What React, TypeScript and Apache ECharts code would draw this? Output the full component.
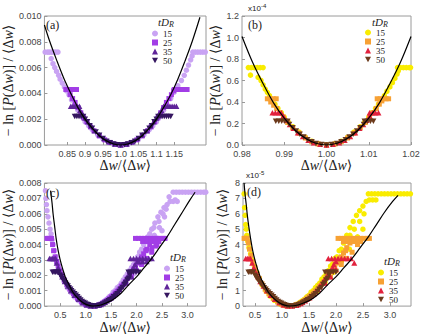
import React, { useEffect, useRef } from "react";
import * as echarts from "echarts";

type Pt = [number, number];

const tdrValues = ["15", "25", "35", "50"];
const coolColors = ["#c9a3f3", "#a23de6", "#5f2499", "#351660"];
const warmColors = ["#f9ec00", "#f7a134", "#e2213d", "#6c3a1c"];
const DOWN = "path://M0,0L10,0L5,9Z";
const markerShapes = ["circle", "rect", "triangle", DOWN];
const markerSizes: any[] = [5.5, 5, [6, 5.5], [6, 5.5]];

const xTicksA = [0.85, 0.9, 0.95, 1.0, 1.05, 1.1, 1.15];
const xLabelsA = ["0.85", "0.9", "0.95", "1.0", "1.05", "1.1", "1.15"];
const xTicksB = [0.98, 0.99, 1.0, 1.01, 1.02];
const xLabelsB = ["0.98", "0.99", "1.00", "1.01", "1.02"];
const xTicksCD = [0.5, 1.0, 1.5, 2.0, 2.5, 3.0];
const xLabelsCD = ["0.5", "1.0", "1.5", "2.0", "2.5", "3.0"];

// ---------- panel (a) ----------
const curveA: Pt[] = [[0.786,0.0093],[0.80,0.0081],[0.82,0.0066],[0.84,0.0052],[0.86,0.0040],[0.88,0.0029],[0.90,0.0020],[0.92,0.0013],[0.94,0.00072],[0.96,0.00032],[0.98,0.00008],[1.00,0],[1.02,0.00008],[1.04,0.00032],[1.06,0.00072],[1.08,0.0013],[1.10,0.0020],[1.12,0.0029],[1.14,0.0039],[1.16,0.0051],[1.18,0.0065],[1.20,0.0080],[1.222,0.0099]];
const a15: Pt[] = [[0.788,0.0072],[0.795,0.0072],[0.80,0.0072],[0.806,0.0072],[0.812,0.0072],[0.818,0.0072],[0.824,0.0072],[0.805,0.0067],[0.81,0.0063],[0.815,0.006],[0.82,0.0057],[0.826,0.0054],[0.83,0.0051],[0.836,0.0048],[0.842,0.0045],[0.848,0.0042],[0.855,0.0039],[0.862,0.0035],[0.87,0.0031],[0.88,0.0027],[0.89,0.0022],[0.90,0.0018],[0.91,0.0015],[0.92,0.0012],[0.935,0.0008],[0.95,0.0005],[0.965,0.00025],[0.98,0.0001],[1.0,0.00002],[1.02,0.0001],[1.035,0.00025],[1.05,0.0005],[1.065,0.0008],[1.08,0.0012],[1.09,0.0015],[1.10,0.0018],[1.11,0.0022],[1.12,0.0027],[1.13,0.0031],[1.14,0.0036],[1.15,0.0041],[1.16,0.0046],[1.17,0.005],[1.178,0.0054],[1.184,0.0058],[1.19,0.0062],[1.196,0.0066],[1.20,0.0069],[1.202,0.0072],[1.209,0.0072],[1.216,0.0072],[1.223,0.0072],[1.23,0.0072],[1.237,0.0072]];
const a25: Pt[] = [[0.846,0.0043],[0.852,0.0043],[0.858,0.0043],[0.864,0.0043],[0.87,0.0043],[0.876,0.0043],[0.858,0.0039],[0.865,0.0036],[0.872,0.0033],[0.88,0.0029],[0.888,0.0025],[0.896,0.0021],[0.905,0.0018],[0.915,0.0014],[0.925,0.0011],[0.94,0.0007],[0.955,0.0004],[0.97,0.0002],[0.985,0.00005],[1.0,0],[1.015,0.00005],[1.03,0.0002],[1.045,0.0004],[1.06,0.0007],[1.075,0.0011],[1.085,0.0014],[1.095,0.0018],[1.104,0.0021],[1.112,0.0025],[1.12,0.0029],[1.128,0.0033],[1.135,0.0036],[1.142,0.0039],[1.148,0.0042],[1.15,0.0043],[1.156,0.0043],[1.162,0.0043],[1.168,0.0043],[1.174,0.0043],[1.18,0.0043],[1.186,0.0043]];
const a35: Pt[] = [[0.86,0.003],[0.866,0.003],[0.872,0.003],[0.878,0.003],[0.884,0.003],[0.886,0.0027],[0.893,0.0024],[0.9,0.0021],[0.908,0.0018],[0.917,0.0015],[0.927,0.0011],[0.94,0.0008],[0.953,0.0005],[0.967,0.00025],[0.983,0.00008],[1.0,0],[1.017,0.00008],[1.033,0.00025],[1.047,0.0005],[1.06,0.0008],[1.073,0.0011],[1.083,0.0015],[1.092,0.0018],[1.1,0.0021],[1.107,0.0024],[1.114,0.0027],[1.12,0.003],[1.126,0.003],[1.132,0.003],[1.138,0.003],[1.144,0.003],[1.15,0.003],[1.156,0.003]];
const a50: Pt[] = [[0.871,0.0022],[0.877,0.0022],[0.883,0.0022],[0.889,0.0022],[0.895,0.0022],[0.9,0.002],[0.906,0.0018],[0.913,0.0015],[0.92,0.0013],[0.93,0.001],[0.94,0.00075],[0.95,0.0005],[0.96,0.0003],[0.97,0.00017],[0.98,0.00007],[0.99,0.00002],[1.0,0],[1.01,0.00002],[1.02,0.00007],[1.03,0.00017],[1.04,0.0003],[1.05,0.0005],[1.06,0.00075],[1.07,0.001],[1.08,0.0013],[1.087,0.0015],[1.094,0.0018],[1.1,0.002],[1.105,0.0022],[1.11,0.0022],[1.116,0.0022],[1.122,0.0022],[1.128,0.0022],[1.134,0.0022],[1.14,0.0022]];

// ---------- panel (b) (units of 1e-4) ----------
const curveB: Pt[] = [[0.98,1.01],[0.9825,0.77],[0.985,0.57],[0.9875,0.39],[0.99,0.25],[0.9925,0.14],[0.995,0.063],[0.9975,0.016],[1.0,0],[1.0025,0.016],[1.005,0.063],[1.0075,0.14],[1.01,0.25],[1.0125,0.39],[1.015,0.57],[1.0175,0.77],[1.02,1.01]];
const b15: Pt[] = [[0.9815,0.72],[0.9822,0.72],[0.9829,0.72],[0.9836,0.72],[0.9843,0.72],[0.985,0.72],[0.982,0.65],[0.9838,0.63],[0.9845,0.6],[0.985,0.56],[0.9855,0.52],[0.986,0.49],[0.9865,0.46],[0.987,0.42],[0.9878,0.38],[0.9885,0.34],[0.9893,0.3],[0.99,0.26],[0.991,0.21],[0.992,0.17],[0.9935,0.12],[0.995,0.07],[0.9965,0.035],[0.998,0.012],[1.0,0.002],[1.002,0.012],[1.0035,0.035],[1.005,0.07],[1.0065,0.12],[1.008,0.17],[1.009,0.21],[1.01,0.26],[1.0108,0.3],[1.0116,0.34],[1.0123,0.38],[1.013,0.42],[1.0137,0.46],[1.0143,0.5],[1.015,0.54],[1.0156,0.58],[1.0162,0.62],[1.0167,0.66],[1.017,0.69],[1.0168,0.72],[1.0175,0.72],[1.0182,0.72],[1.0189,0.72],[1.0196,0.72],[1.0199,0.72]];
const b25: Pt[] = [[0.986,0.43],[0.9867,0.43],[0.9874,0.43],[0.9881,0.43],[0.9868,0.4],[0.9875,0.37],[0.9882,0.34],[0.989,0.3],[0.9898,0.26],[0.9908,0.21],[0.992,0.16],[0.9935,0.11],[0.995,0.065],[0.9965,0.03],[0.998,0.01],[1.0,0],[1.002,0.01],[1.0035,0.03],[1.005,0.065],[1.0065,0.11],[1.008,0.16],[1.0092,0.21],[1.0102,0.26],[1.011,0.3],[1.0118,0.34],[1.0125,0.38],[1.0131,0.41],[1.012,0.43],[1.0127,0.43],[1.0134,0.43],[1.0141,0.43],[1.0147,0.43]];
const b35: Pt[] = [[0.9872,0.3],[0.9879,0.3],[0.9886,0.3],[0.9893,0.3],[0.9898,0.27],[0.9905,0.23],[0.9913,0.19],[0.9922,0.155],[0.9932,0.115],[0.9944,0.08],[0.9957,0.045],[0.997,0.022],[0.9985,0.006],[1.0,0],[1.0015,0.006],[1.003,0.022],[1.0043,0.045],[1.0056,0.08],[1.0068,0.115],[1.0078,0.155],[1.0087,0.19],[1.0095,0.23],[1.0102,0.27],[1.0102,0.3],[1.0109,0.3],[1.0116,0.3],[1.0123,0.3]];
const b50: Pt[] = [[0.988,0.22],[0.9887,0.22],[0.9894,0.22],[0.9901,0.22],[0.9908,0.22],[0.9912,0.19],[0.992,0.16],[0.9928,0.13],[0.9937,0.1],[0.9946,0.075],[0.9955,0.05],[0.9965,0.03],[0.9975,0.015],[0.9988,0.004],[1.0,0],[1.0012,0.004],[1.0025,0.015],[1.0035,0.03],[1.0045,0.05],[1.0054,0.075],[1.0063,0.1],[1.0072,0.13],[1.008,0.16],[1.0088,0.19],[1.009,0.22],[1.0097,0.22],[1.0104,0.22],[1.0111,0.22]];

// ---------- panel (c) ----------
const curveC: Pt[] = [[0.31,0.0075],[0.34,0.0067],[0.36,0.006],[0.39,0.0052],[0.42,0.0044],[0.46,0.0036],[0.5,0.003],[0.55,0.0024],[0.6,0.0019],[0.67,0.0014],[0.75,0.0009],[0.85,0.0005],[0.95,0.00022],[1.05,0.00006],[1.15,0.0],[1.3,0.00007],[1.4,0.0002],[1.55,0.00045],[1.7,0.00085],[1.85,0.0014],[2.0,0.0019],[2.15,0.0025],[2.3,0.0031],[2.45,0.0038],[2.6,0.0045],[2.75,0.0053],[2.9,0.0061],[3.05,0.0069],[3.15,0.0074]];
const c15: Pt[] = [[0.21,0.0075],[0.22,0.007],[0.23,0.0066],[0.24,0.0062],[0.26,0.0058],[0.28,0.0054],[0.3,0.005],[0.32,0.0047],[0.34,0.0043],[0.36,0.004],[0.39,0.0036],[0.42,0.0032],[0.45,0.0028],[0.49,0.0024],[0.53,0.002],[0.58,0.0016],[0.64,0.0012],[0.71,0.0009],[0.78,0.0006],[0.86,0.00035],[0.95,0.00015],[1.04,0.00004],[1.13,0.00001],[1.26,0.0001],[1.34,0.00025],[1.42,0.00045],[1.5,0.0007],[1.58,0.001],[1.66,0.0013],[1.74,0.0017],[1.82,0.0021],[1.9,0.0025],[1.98,0.003],[2.06,0.0035],[2.14,0.004],[2.22,0.0045],[2.3,0.005],[2.36,0.0054],[2.42,0.0058],[2.48,0.0061],[2.54,0.0064],[2.6,0.0066],[2.66,0.0068],[2.64,0.0071],[1.3,0.00015],[1.38,0.00035],[1.46,0.0006],[1.54,0.0009],[1.62,0.0012],[1.7,0.0015],[1.78,0.0019],[1.86,0.0023],[1.94,0.0027],[2.02,0.0032],[2.1,0.0037],[2.18,0.0042],[2.26,0.0047],[2.34,0.0051],[2.44,0.0055],[2.52,0.006],[2.35,0.0046],[2.45,0.0051],[2.55,0.0058],[2.58,0.0063],[1.5,0.0005],[1.65,0.0009],[1.8,0.0015],[1.95,0.0021],[2.1,0.0028],[2.25,0.0036],[2.4,0.0044],[2.5,0.0049],[2.72,0.0068],[2.76,0.0069],[2.8,0.0068],[2.72,0.0074],[2.78,0.0074],[2.84,0.0074],[2.9,0.0074],[2.96,0.0074],[3.02,0.0074],[3.08,0.0074],[3.14,0.0074],[3.2,0.0074],[3.26,0.0074],[3.32,0.0074],[3.36,0.0074]];
const c25: Pt[] = [[0.24,0.0044],[0.27,0.0044],[0.3,0.0044],[0.33,0.0044],[0.35,0.004],[0.37,0.0036],[0.4,0.0032],[0.43,0.0029],[0.46,0.0026],[0.5,0.0023],[0.54,0.002],[0.58,0.0017],[0.63,0.0014],[0.69,0.0011],[0.76,0.0008],[0.84,0.0005],[0.92,0.00027],[1.0,0.0001],[1.08,0.00002],[1.18,0.00001],[1.26,0.00008],[1.34,0.0002],[1.42,0.00038],[1.5,0.0006],[1.58,0.00085],[1.66,0.0011],[1.74,0.0014],[1.82,0.0018],[1.9,0.0022],[1.98,0.0026],[2.06,0.003],[2.14,0.0034],[2.2,0.0037],[2.26,0.004],[1.3,0.00012],[1.38,0.00028],[1.46,0.00048],[1.54,0.0007],[1.62,0.00097],[1.7,0.0013],[1.78,0.0016],[1.86,0.002],[1.94,0.0024],[2.02,0.0028],[2.1,0.0032],[2.18,0.0036],[1.9,0.0019],[2.0,0.0023],[2.1,0.0027],[2.2,0.0031],[2.3,0.0035],[2.4,0.004],[1.98,0.0044],[2.04,0.0044],[2.1,0.0044],[2.16,0.0044],[2.22,0.0044],[2.28,0.0044],[2.34,0.0044],[2.4,0.0044],[2.46,0.0044],[2.52,0.0044],[2.56,0.0044],[2.12,0.0042],[2.2,0.0042],[2.28,0.0042],[2.36,0.0042],[2.44,0.0042],[2.3,0.0038],[2.38,0.0039]];
const c35: Pt[] = [[0.29,0.0031],[0.32,0.0031],[0.35,0.0031],[0.38,0.0031],[0.41,0.0031],[0.43,0.0028],[0.46,0.0025],[0.5,0.0022],[0.54,0.0019],[0.59,0.0016],[0.65,0.0013],[0.71,0.001],[0.78,0.0007],[0.86,0.00045],[0.94,0.00022],[1.02,0.00007],[1.1,0.00001],[1.18,0],[1.26,0.00006],[1.34,0.00017],[1.42,0.00034],[1.5,0.00055],[1.58,0.0008],[1.66,0.0011],[1.74,0.0015],[1.82,0.0019],[1.9,0.0023],[1.97,0.0027],[2.02,0.0029],[1.3,0.0001],[1.38,0.00025],[1.46,0.00044],[1.54,0.00066],[1.62,0.00093],[1.7,0.0013],[1.78,0.0017],[1.86,0.0021],[1.94,0.0025],[1.8,0.0015],[1.9,0.0019],[2.0,0.0024],[1.88,0.0031],[1.94,0.0031],[2.0,0.0031],[2.06,0.0031],[2.12,0.0031],[2.18,0.0031],[2.24,0.0031],[2.3,0.0031],[2.04,0.0029],[2.12,0.0029],[2.2,0.0029]];
const c50: Pt[] = [[0.35,0.0022],[0.38,0.0022],[0.41,0.0022],[0.44,0.0022],[0.47,0.0022],[0.5,0.002],[0.54,0.0018],[0.58,0.0016],[0.62,0.0014],[0.67,0.0012],[0.72,0.001],[0.78,0.0008],[0.84,0.0006],[0.9,0.0004],[0.96,0.00024],[1.02,0.00012],[1.08,0.00004],[1.14,0],[1.2,0.00001],[1.27,0.00005],[1.34,0.00013],[1.41,0.00026],[1.48,0.00042],[1.55,0.0006],[1.62,0.0008],[1.69,0.0011],[1.76,0.0014],[1.82,0.0017],[1.87,0.002],[0.52,0.0019],[0.56,0.0017],[0.6,0.0015],[0.65,0.0013],[0.7,0.0011],[0.75,0.0009],[0.81,0.0007],[0.87,0.0005],[0.93,0.0003],[0.99,0.00018],[1.05,0.00008],[1.11,0.00002],[1.24,0.00003],[1.31,0.00009],[1.38,0.0002],[1.45,0.00034],[1.52,0.0005],[1.59,0.0007],[1.66,0.00095],[1.73,0.0012],[1.79,0.0015],[1.85,0.0018],[1.84,0.0022],[1.89,0.0022],[1.94,0.0022],[1.99,0.0022],[2.04,0.0022]];

// ---------- panel (d) (units of 1e-5) ----------
const curveD: Pt[] = [[0.3,8.0],[0.32,7.2],[0.34,6.6],[0.36,5.9],[0.39,5.1],[0.42,4.4],[0.46,3.6],[0.5,3.0],[0.55,2.4],[0.6,1.9],[0.67,1.4],[0.75,0.9],[0.85,0.5],[0.95,0.22],[1.05,0.06],[1.15,0.0],[1.3,0.07],[1.4,0.2],[1.55,0.45],[1.7,0.85],[1.85,1.4],[2.0,1.9],[2.15,2.5],[2.3,3.1],[2.45,3.8],[2.6,4.5],[2.75,5.3],[2.9,6.1],[3.05,6.8],[3.15,7.2]];
const d15: Pt[] = [[0.3,7.3],[0.31,6.4],[0.32,5.9],[0.33,5.3],[0.34,5.0],[0.35,4.6],[0.37,4.2],[0.39,3.8],[0.42,3.4],[0.45,3.0],[0.49,2.6],[0.53,2.2],[0.58,1.8],[0.64,1.35],[0.71,0.95],[0.78,0.65],[0.86,0.38],[0.95,0.16],[1.04,0.05],[1.13,0.01],[1.26,0.1],[1.34,0.25],[1.42,0.45],[1.5,0.7],[1.58,1.0],[1.66,1.35],[1.74,1.75],[1.82,2.15],[1.9,2.6],[1.98,3.1],[2.06,3.6],[2.14,4.1],[2.2,4.6],[2.26,5.1],[2.32,5.5],[2.38,5.9],[2.44,6.2],[2.5,6.5],[2.56,6.8],[2.62,6.9],[2.68,6.9],[2.74,6.9],[1.3,0.15],[1.38,0.35],[1.46,0.6],[1.54,0.9],[1.62,1.2],[1.7,1.5],[1.78,1.9],[1.86,2.3],[1.94,2.75],[2.02,3.2],[2.1,3.7],[2.18,4.2],[2.26,4.6],[2.34,5.0],[2.44,5.5],[2.52,6.0],[1.5,0.5],[1.65,0.95],[1.8,1.55],[1.95,2.2],[2.1,2.9],[2.25,3.7],[2.4,4.5],[2.5,5.0],[2.6,7.3],[2.66,7.3],[2.72,7.3],[2.78,7.3],[2.84,7.3],[2.9,7.3],[2.96,7.3],[3.02,7.3],[3.08,7.3],[3.14,7.3],[3.2,7.3],[3.26,7.3],[3.32,7.3],[3.38,7.3]];
const d25: Pt[] = [[0.3,4.4],[0.32,4.4],[0.34,4.4],[0.36,4.4],[0.38,4.1],[0.4,3.7],[0.43,3.3],[0.46,2.9],[0.5,2.5],[0.54,2.1],[0.58,1.8],[0.63,1.45],[0.69,1.1],[0.76,0.8],[0.84,0.5],[0.92,0.27],[1.0,0.1],[1.08,0.02],[1.18,0.01],[1.26,0.08],[1.34,0.2],[1.42,0.38],[1.5,0.6],[1.58,0.85],[1.66,1.1],[1.74,1.45],[1.82,1.85],[1.9,2.25],[1.98,2.65],[2.06,3.05],[2.14,3.45],[2.2,3.8],[2.26,4.1],[1.3,0.12],[1.38,0.28],[1.46,0.48],[1.54,0.7],[1.62,0.97],[1.7,1.3],[1.78,1.6],[1.86,2.0],[1.94,2.4],[2.02,2.8],[2.1,3.2],[2.18,3.6],[1.9,1.9],[2.0,2.3],[2.1,2.7],[2.2,3.1],[2.3,3.5],[2.4,4.0],[2.04,4.4],[2.1,4.4],[2.16,4.4],[2.22,4.4],[2.28,4.4],[2.34,4.4],[2.4,4.4],[2.46,4.4],[2.52,4.4],[2.58,4.4],[2.62,4.4],[2.14,4.2],[2.22,4.2],[2.3,4.2],[2.38,4.2],[2.46,4.2]];
const d35: Pt[] = [[0.33,3.1],[0.36,3.1],[0.39,3.1],[0.42,3.1],[0.45,2.8],[0.48,2.5],[0.52,2.2],[0.56,1.9],[0.6,1.6],[0.66,1.3],[0.72,1.0],[0.79,0.7],[0.87,0.45],[0.95,0.22],[1.03,0.07],[1.11,0.01],[1.19,0.0],[1.27,0.06],[1.35,0.17],[1.43,0.34],[1.51,0.55],[1.59,0.8],[1.67,1.1],[1.75,1.5],[1.83,1.9],[1.9,2.3],[1.96,2.7],[2.0,2.9],[1.3,0.1],[1.38,0.25],[1.46,0.44],[1.54,0.66],[1.62,0.93],[1.7,1.3],[1.78,1.7],[1.86,2.1],[1.94,2.5],[1.8,1.5],[1.9,1.9],[2.0,2.4],[1.86,3.1],[1.92,3.1],[1.98,3.1],[2.04,3.1],[2.1,3.1],[2.16,3.1],[2.22,3.1],[2.28,3.1],[2.34,2.8]];
const d50: Pt[] = [[0.38,2.2],[0.41,2.2],[0.44,2.2],[0.47,2.2],[0.5,2.0],[0.54,1.8],[0.58,1.6],[0.62,1.4],[0.67,1.2],[0.72,1.0],[0.78,0.8],[0.84,0.6],[0.9,0.4],[0.96,0.24],[1.02,0.12],[1.08,0.04],[1.14,0.0],[1.2,0.01],[1.27,0.05],[1.34,0.13],[1.41,0.26],[1.48,0.42],[1.55,0.6],[1.62,0.8],[1.69,1.1],[1.76,1.4],[1.82,1.7],[1.87,2.0],[0.52,1.9],[0.56,1.7],[0.6,1.5],[0.65,1.3],[0.7,1.1],[0.75,0.9],[0.81,0.7],[0.87,0.5],[0.93,0.3],[0.99,0.18],[1.05,0.08],[1.11,0.02],[1.24,0.03],[1.31,0.09],[1.38,0.2],[1.45,0.34],[1.52,0.5],[1.59,0.7],[1.66,0.95],[1.73,1.2],[1.79,1.5],[1.85,1.8],[1.8,2.2],[1.85,2.2],[1.9,2.2],[1.95,2.2],[2.0,2.2]];

const serif = "'Liberation Serif', 'DejaVu Serif', serif";
const sans = "'Liberation Sans', Arial, sans-serif";

const panelData = [
  { sets: [a15, a25, a35, a50], curve: curveA, colors: coolColors, key: "a" },
  { sets: [b15, b25, b35, b50], curve: curveB, colors: warmColors, key: "b" },
  { sets: [c15, c25, c35, c50], curve: curveC, colors: coolColors, key: "c" },
  { sets: [d15, d25, d35, d50], curve: curveD, colors: warmColors, key: "d" },
];

function nearestLabel(v: number, ticks: number[], labels: string[]) {
  let best = 0;
  for (let i = 1; i < ticks.length; i++) if (Math.abs(ticks[i] - v) < Math.abs(ticks[best] - v)) best = i;
  return labels[best];
}

const xName = "{n|Δ}{i|w}{n|/⟨Δ}{i|w}{n|⟩}";
const yName = "{n|− ln [}{i|P}{n|(Δ}{i|w}{n|)] / ⟨Δ}{i|w}{n|⟩}";
const nameRich = {
  n: { fontFamily: serif, fontSize: 14, color: "#222" },
  i: { fontFamily: serif, fontSize: 14, fontStyle: "italic", color: "#222" },
};

function xAxis(gi: number, min: number, max: number, ticks: number[], labels: string[]) {
  return {
    type: "value", gridIndex: gi, min, max,
    axisLine: { show: false },
    splitLine: { show: false },
    axisTick: { show: true, inside: true, length: 3, customValues: ticks, lineStyle: { color: "#999" } },
    axisLabel: { customValues: ticks, formatter: (v: number) => nearestLabel(v, ticks, labels), fontFamily: sans, fontSize: 9, color: "#444", margin: 4 },
    name: xName, nameLocation: "middle", nameGap: 8,
    nameTextStyle: { rich: nameRich, verticalAlign: "top" },
  };
}

function yAxis(gi: number, max: number, interval: number, digits: number, gap: number) {
  return {
    type: "value", gridIndex: gi, min: 0, max, interval,
    axisLine: { show: false },
    splitLine: { show: false },
    axisTick: { show: true, inside: true, length: 3, lineStyle: { color: "#999" } },
    axisLabel: { formatter: (v: number) => v.toFixed(digits), fontFamily: sans, fontSize: 9, color: "#444", margin: 3 },
    name: yName, nameLocation: "middle", nameGap: gap, nameRotate: 90,
    nameTextStyle: { rich: nameRich },
  };
}

function textEl(left: number, top: number, text: string, rich?: any, font?: any) {
  return {
    type: "text", left, top, silent: true, z: 100,
    style: { text, rich, fill: "#222", font: font || `12px ${serif}` },
  };
}

const tdrRich = {
  i: { fontFamily: serif, fontSize: 11, fontStyle: "italic", fill: "#222", color: "#222" },
  s: { fontFamily: serif, fontSize: 8, fontStyle: "italic", fill: "#222", color: "#222", padding: [5, 0, 0, 0] },
};
const expRich = {
  b: { fontFamily: sans, fontSize: 8, color: "#333" },
  s: { fontFamily: sans, fontSize: 6, color: "#333", padding: [0, 0, 5, 0] },
};

export default function App() {
  const ref = useRef<HTMLDivElement>(null);
  useEffect(() => {
    if (!ref.current) return;
    const chart = echarts.init(ref.current, undefined, { renderer: "svg" });
    const series: any[] = [];
    panelData.forEach((p, pi) => {
      p.sets.forEach((data, si) => {
        series.push({
          type: "scatter", name: p.key + tdrValues[si], data,
          xAxisIndex: pi, yAxisIndex: pi,
          symbol: markerShapes[si], symbolSize: markerSizes[si],
          itemStyle: { color: p.colors[si], opacity: 1 },
          silent: true, z: 2 + si,
        });
      });
      series.push({
        type: "line", name: "fit" + p.key, data: p.curve,
        xAxisIndex: pi, yAxisIndex: pi, showSymbol: false, smooth: 0.35,
        lineStyle: { color: "#000", width: 1.2 }, silent: true, z: 10,
      });
    });
    const legendPos = [
      { left: 152, top: 29 },
      { left: 365, top: 28 },
      { left: 164, top: 264 },
      { left: 378, top: 268 },
    ];
    const legend = panelData.map((p, pi) => ({
      data: tdrValues.map((v, si) => ({ name: p.key + v, icon: markerShapes[si] })),
      orient: "vertical", left: legendPos[pi].left, top: legendPos[pi].top,
      itemWidth: 6, itemHeight: 6, itemGap: 0, padding: 0, selectedMode: false,
      formatter: (n: string) => n.slice(1),
      textStyle: { fontFamily: serif, fontSize: 9, color: "#222", lineHeight: 9 },
    }));
    chart.setOption({
      animation: false,
      backgroundColor: "#fff",
      grid: [
        { left: 41, top: 16, width: 165, height: 129 },
        { left: 242, top: 16, width: 169, height: 129 },
        { left: 41, top: 183, width: 165, height: 127 },
        { left: 243, top: 183, width: 168, height: 126 },
      ].map((g) => ({ ...g, show: true, borderColor: "#9a9a9a", borderWidth: 1, backgroundColor: "transparent" })),
      xAxis: [
        xAxis(0, 0.786, 1.239, xTicksA, xLabelsA),
        xAxis(1, 0.98, 1.02, xTicksB, xLabelsB),
        xAxis(2, 0.19, 3.365, xTicksCD, xLabelsCD),
        xAxis(3, 0.28, 3.39, xTicksCD, xLabelsCD),
      ],
      yAxis: [
        yAxis(0, 0.01, 0.002, 3, 27),
        yAxis(1, 1.2, 0.2, 1, 14),
        yAxis(2, 0.008, 0.001, 3, 27),
        yAxis(3, 8, 1, 0, 14),
      ],
      legend,
      graphic: [
        textEl(46, 19, "(a)"),
        textEl(248, 19, "(b)"),
        textEl(46, 187, "(c)"),
        textEl(247, 186, "(d)"),
        textEl(158, 16, "{i|tD}{s|R}", tdrRich),
        textEl(372, 16, "{i|tD}{s|R}", tdrRich),
        textEl(170, 251, "{i|tD}{s|R}", tdrRich),
        textEl(384, 255, "{i|tD}{s|R}", tdrRich),
        textEl(248, 3, "{b|x10}{s|-4}", expRich),
        textEl(246, 170, "{b|x10}{s|-5}", expRich),
      ],
      series,
    });
    return () => chart.dispose();
  }, []);
  return <div ref={ref} style={{ position: "fixed", left: 0, top: 0, width: 432, height: 335, background: "#fff" }} />;
}
